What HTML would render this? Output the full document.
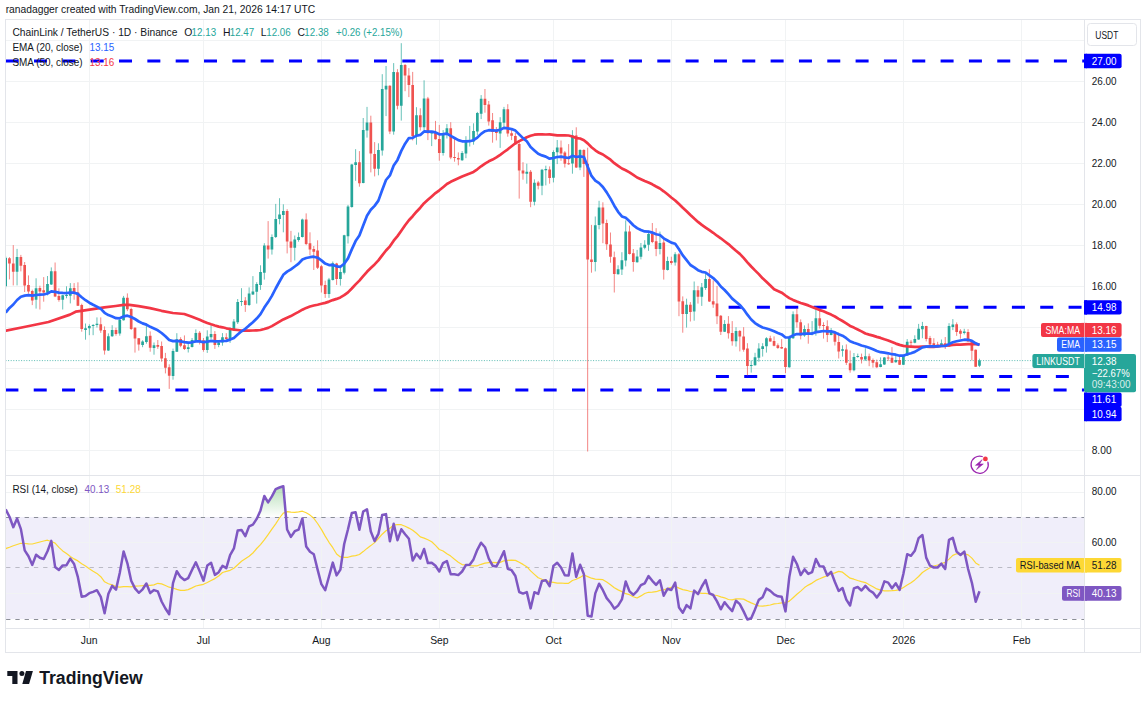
<!DOCTYPE html>
<html lang="en"><head><meta charset="utf-8"><title>LINKUSDT chart</title>
<style>html,body{margin:0;padding:0;background:#fff}svg{display:block}text{font-family:"Liberation Sans", sans-serif;}</style>
</head><body>
<svg width="1146" height="701" viewBox="0 0 1146 701">
<rect width="1146" height="701" fill="#fff"/>
<defs>
<clipPath id="cm"><rect x="6.0" y="20.0" width="1078.5" height="455.5"/></clipPath>
<clipPath id="cr"><rect x="6.0" y="476.0" width="1078.5" height="152.5"/></clipPath>
<linearGradient id="gob" gradientUnits="userSpaceOnUse" x1="0" y1="440.9" x2="0" y2="517.3"><stop offset="0" stop-color="#4caf50" stop-opacity="1"/><stop offset="1" stop-color="#4caf50" stop-opacity="0"/></linearGradient>
<linearGradient id="gos" gradientUnits="userSpaceOnUse" x1="0" y1="619.1" x2="0" y2="695.5"><stop offset="0" stop-color="#ff5252" stop-opacity="0"/><stop offset="1" stop-color="#ff5252" stop-opacity="1"/></linearGradient>
<clipPath id="cob"><rect x="6.0" y="476.0" width="1078.5" height="41.3"/></clipPath>
<clipPath id="cos"><rect x="6.0" y="619.1" width="1078.5" height="9.4"/></clipPath>
</defs>
<text x="5.7" y="12.9" font-size="10.6" fill="#131722" textLength="309.5" lengthAdjust="spacingAndGlyphs">ranadagger created with TradingView.com, Jan 21, 2026 14:17 UTC</text>
<rect x="6.0" y="516.9" width="1078.5" height="102.1" fill="#f0eefa"/>
<path d="M89.5 19.5V628.5M203.5 19.5V628.5M321.5 19.5V628.5M439.5 19.5V628.5M553.5 19.5V628.5M671.5 19.5V628.5M785.5 19.5V628.5M903.5 19.5V628.5M1021.5 19.5V628.5M5.5 450.5H1084.5M5.5 409.5H1084.5M5.5 368.5H1084.5M5.5 327.5H1084.5M5.5 286.5H1084.5M5.5 245.5H1084.5M5.5 204.5H1084.5M5.5 163.5H1084.5M5.5 122.5H1084.5M5.5 81.5H1084.5M5.5 40.5H1084.5M5.5 492.5H1084.5M5.5 542.5H1084.5M5.5 593.5H1084.5" stroke="#f1f3f4" stroke-width="1" fill="none" shape-rendering="crispEdges"/>
<path d="M6.1 517.5H1084.5M6.1 619.5H1084.5" stroke="#787b86" stroke-opacity="0.85" stroke-width="1" stroke-dasharray="4.3 4.97" fill="none"/>
<path d="M6.1 567.5H1084.5" stroke="#787b86" stroke-opacity="0.45" stroke-width="1" stroke-dasharray="4.3 4.97" fill="none"/>
<path d="M5.7 60.9H1084.5" stroke="#0000ff" stroke-width="3" stroke-dasharray="13 15.33" stroke-dashoffset="0.0" fill="none"/>
<path d="M728.6 307.3H1084.5" stroke="#0000ff" stroke-width="3" stroke-dasharray="13 15.33" stroke-dashoffset="0.0" fill="none"/>
<path d="M715.9 376.4H1069.5" stroke="#0000ff" stroke-width="3" stroke-dasharray="13 15.33" stroke-dashoffset="0.0" fill="none"/>
<path d="M5.4 389.9H1084.5" stroke="#0000ff" stroke-width="3" stroke-dasharray="13 15.33" stroke-dashoffset="0.0" fill="none"/>
<g clip-path="url(#cm)">
<path d="M5.5 360.6H1084.5" stroke="#26a69a" stroke-width="1" stroke-dasharray="1 1.6" stroke-opacity="0.75" fill="none"/>
<path d="M5.65 256.0V288.6M17.06 248.9V285.4M36.08 278.3V308.6M47.49 276.0V295.4M51.30 267.4V285.0M62.71 294.8V309.5M66.51 286.3V298.3M70.32 283.1V303.4M85.53 323.5V339.7M89.34 324.3V335.2M93.14 324.1V335.2M96.95 317.4V327.5M108.36 333.4V351.0M112.16 325.2V336.9M119.77 319.1V335.7M123.57 295.9V320.6M142.59 340.3V347.2M146.40 323.7V343.7M154.01 342.5V354.7M173.03 348.6V379.7M176.83 333.2V352.0M188.24 343.2V352.5M192.05 338.0V347.5M195.85 329.4V341.8M207.26 330.3V352.9M211.07 325.4V339.1M218.67 342.0V347.2M222.48 333.1V345.7M230.09 327.1V342.9M233.89 319.1V330.8M237.69 299.0V324.0M241.50 288.2V305.9M249.11 287.4V305.9M252.91 276.1V295.0M256.71 282.2V303.6M260.52 265.3V289.9M264.32 243.2V279.6M271.93 234.4V254.6M275.73 203.9V238.0M279.54 198.2V224.3M283.34 204.3V232.3M294.75 235.5V260.5M298.56 232.5V241.7M302.36 218.6V237.5M328.99 277.9V297.9M332.79 261.5V280.5M340.40 267.6V285.6M344.21 234.8V274.4M348.01 204.9V243.5M351.81 163.9V207.7M355.62 149.2V180.8M363.23 118.0V183.3M367.03 106.9V137.6M378.44 143.3V175.3M382.25 74.2V155.6M386.05 66.0V116.1M393.66 63.1V134.7M401.27 43.2V120.6M416.48 107.2V144.7M424.09 80.3V130.1M431.70 131.0V146.1M443.11 130.1V155.6M446.91 124.1V138.5M462.13 151.1V160.9M465.93 136.2V158.2M469.74 125.9V146.5M473.54 123.3V144.7M477.35 111.9V135.3M481.15 95.1V119.1M500.17 117.2V147.9M503.97 106.9V127.9M526.80 163.7V183.7M534.41 179.4V205.4M542.01 168.9V195.2M545.82 165.7V185.4M553.43 150.3V182.4M557.23 140.0V164.1M572.45 130.2V173.7M580.05 149.2V170.2M595.27 216.5V271.4M599.07 200.8V229.3M618.09 265.3V274.5M621.90 252.2V275.0M625.70 220.4V266.4M637.11 249.9V262.6M640.92 243.0V259.4M644.72 240.2V249.3M648.53 230.7V250.8M659.94 231.6V254.4M667.55 256.7V270.5M675.15 252.2V265.6M686.57 298.7V327.6M694.17 281.5V320.7M701.78 283.0V305.9M705.59 272.3V289.9M724.61 320.1V332.0M736.02 327.2V346.6M751.23 360.6V372.6M755.04 352.8V365.7M758.84 343.2V361.7M762.65 343.2V356.6M766.45 337.2V352.6M789.27 335.7V367.7M793.08 311.4V338.9M804.49 325.4V336.8M812.10 321.1V335.4M815.90 306.3V335.7M831.12 328.0V335.3M842.53 345.3V356.7M853.94 353.0V371.3M857.75 353.6V357.8M865.35 348.2V361.0M880.57 357.4V367.3M884.37 357.0V365.0M895.79 355.9V362.7M903.39 355.0V365.0M907.20 339.1V355.9M914.81 335.3V343.3M918.61 323.9V339.9M922.41 321.9V338.2M941.43 339.5V346.2M949.04 323.2V346.7M952.85 319.1V330.1M964.26 328.8V334.5M979.47 358.7V367.1" stroke="#26a69a" stroke-width="1" fill="none" stroke-opacity="0.7"/>
<path d="M9.45 257.1V279.4M13.26 245.1V285.4M20.87 254.9V271.4M24.67 262.0V292.0M28.47 275.4V293.7M32.28 289.7V305.1M39.89 285.7V309.5M43.69 277.1V301.7M55.10 262.5V297.1M58.91 288.3V301.7M74.12 283.1V299.7M77.93 282.3V306.0M81.73 303.7V331.7M100.75 317.4V332.9M104.55 326.4V354.6M115.97 327.7V335.7M127.38 293.4V311.1M131.18 307.7V330.0M134.99 327.2V352.6M138.79 338.0V350.6M150.20 331.4V351.7M157.81 340.0V348.9M161.61 341.5V361.7M165.42 352.9V373.4M169.22 364.3V388.9M180.63 337.2V347.2M184.44 335.4V350.0M199.65 331.1V344.5M203.46 338.0V351.7M214.87 331.1V348.9M226.28 333.2V342.0M245.30 297.1V311.9M268.13 221.1V258.6M287.15 209.2V253.4M290.95 230.9V262.2M306.17 213.4V245.1M309.97 232.3V255.2M313.77 246.0V270.0M317.58 240.3V269.0M321.38 264.9V292.5M325.19 280.7V297.9M336.60 262.8V284.9M359.42 151.1V186.7M370.83 115.7V172.4M374.64 142.1V176.4M389.85 85.2V134.1M397.46 69.2V109.4M405.07 64.0V91.2M408.87 68.1V97.1M412.68 71.9V140.4M420.29 108.3V130.5M427.89 96.9V140.1M435.50 120.9V139.6M439.31 124.9V160.7M450.72 122.2V159.2M454.52 138.6V161.7M458.33 152.4V165.3M484.95 89.0V112.7M488.76 101.0V125.6M492.56 113.0V142.7M496.37 127.1V140.4M507.78 104.2V136.7M511.58 129.4V140.1M515.39 133.0V144.6M519.19 141.5V198.6M522.99 162.2V179.7M530.60 170.0V207.2M538.21 180.9V189.4M549.62 166.4V183.7M561.03 140.5V160.8M564.84 151.1V167.5M568.64 144.1V164.9M576.25 127.3V168.0M583.86 149.2V176.9M587.66 147.7V451.5M591.47 224.9V272.7M602.88 202.3V243.2M606.68 219.6V249.9M610.49 232.5V262.7M614.29 251.6V292.5M629.51 225.6V254.5M633.31 249.0V271.7M652.33 223.0V243.2M656.13 228.2V256.2M663.74 237.1V279.6M671.35 256.7V264.7M678.96 253.0V316.2M682.76 296.4V332.7M690.37 302.1V321.5M697.98 285.9V303.6M709.39 269.3V302.0M713.19 280.4V307.8M717.00 285.9V324.1M720.80 315.0V335.0M728.41 316.1V338.6M732.21 321.1V345.7M739.82 330.0V351.4M743.63 327.2V351.7M747.43 343.2V375.4M770.25 335.7V341.7M774.06 336.4V346.3M777.86 343.4V348.9M781.67 339.1V348.9M785.47 347.4V373.2M796.88 308.2V327.7M800.69 319.4V339.4M808.29 323.4V343.7M819.71 308.9V328.6M823.51 322.3V338.6M827.31 320.3V342.1M834.92 331.0V345.5M838.73 332.5V358.5M846.33 344.4V365.0M850.14 350.5V372.7M861.55 353.6V363.5M869.16 353.6V366.2M872.96 358.5V367.6M876.77 359.6V368.1M888.18 355.1V361.0M891.98 347.1V363.1M899.59 357.0V365.0M911.00 339.9V347.9M926.22 325.8V341.4M930.02 335.9V347.1M933.83 338.2V346.7M937.63 341.8V345.9M945.24 337.0V349.0M956.65 322.4V335.9M960.45 329.2V338.7M968.06 329.2V341.8M971.87 340.7V360.4M975.67 349.5V367.0" stroke="#ef5350" stroke-width="1" fill="none" stroke-opacity="0.7"/>
<path d="M4.30 257.7h2.7v28.6h-2.7zM15.71 257.1h2.7v14.6h-2.7zM34.73 288.3h2.7v11.4h-2.7zM46.14 284.0h2.7v8.8h-2.7zM49.95 271.2h2.7v13.4h-2.7zM61.36 295.2h2.7v4.6h-2.7zM65.16 294.9h2.7v1.1h-2.7zM68.97 288.3h2.7v7.4h-2.7zM84.18 328.3h2.7v1.7h-2.7zM87.99 326.0h2.7v2.3h-2.7zM91.79 324.9h2.7v1.0h-2.7zM95.60 323.8h2.7v1.1h-2.7zM107.01 336.3h2.7v14.3h-2.7zM110.81 330.0h2.7v6.3h-2.7zM118.42 320.0h2.7v13.4h-2.7zM122.22 297.8h2.7v22.5h-2.7zM141.24 341.4h2.7v3.5h-2.7zM145.05 336.3h2.7v5.7h-2.7zM152.66 345.2h2.7v2.8h-2.7zM171.68 351.0h2.7v25.1h-2.7zM175.48 339.2h2.7v12.5h-2.7zM186.89 347.2h2.7v1.7h-2.7zM190.70 340.1h2.7v6.9h-2.7zM194.50 333.0h2.7v7.6h-2.7zM205.91 336.5h2.7v13.5h-2.7zM209.72 334.0h2.7v3.2h-2.7zM217.32 342.6h2.7v2.3h-2.7zM221.13 337.2h2.7v5.4h-2.7zM228.74 328.0h2.7v12.0h-2.7zM232.54 321.6h2.7v7.5h-2.7zM236.34 301.9h2.7v20.3h-2.7zM240.15 301.0h2.7v1.0h-2.7zM247.76 293.6h2.7v11.5h-2.7zM251.56 291.4h2.7v3.0h-2.7zM255.36 284.1h2.7v7.7h-2.7zM259.17 272.1h2.7v12.9h-2.7zM262.97 245.4h2.7v27.3h-2.7zM270.58 236.9h2.7v12.5h-2.7zM274.38 219.1h2.7v18.0h-2.7zM278.19 214.6h2.7v4.5h-2.7zM281.99 211.1h2.7v3.8h-2.7zM293.40 239.4h2.7v8.3h-2.7zM297.21 237.1h2.7v3.0h-2.7zM301.01 219.5h2.7v17.6h-2.7zM327.64 279.6h2.7v14.3h-2.7zM331.44 263.2h2.7v16.9h-2.7zM339.05 272.1h2.7v6.9h-2.7zM342.86 235.2h2.7v37.5h-2.7zM346.66 206.6h2.7v29.7h-2.7zM350.46 164.4h2.7v42.7h-2.7zM354.27 162.2h2.7v2.8h-2.7zM361.88 130.1h2.7v53.0h-2.7zM365.68 122.6h2.7v7.9h-2.7zM377.09 150.1h2.7v18.6h-2.7zM380.90 89.1h2.7v61.3h-2.7zM384.70 85.7h2.7v3.7h-2.7zM392.31 71.9h2.7v59.7h-2.7zM399.92 65.1h2.7v40.7h-2.7zM415.13 115.2h2.7v20.7h-2.7zM422.74 98.6h2.7v28.6h-2.7zM430.35 131.9h2.7v1.7h-2.7zM441.76 133.2h2.7v19.8h-2.7zM445.56 128.3h2.7v4.9h-2.7zM460.78 153.0h2.7v7.2h-2.7zM464.58 141.0h2.7v12.6h-2.7zM468.39 140.4h2.7v1.0h-2.7zM472.19 131.0h2.7v10.6h-2.7zM476.00 113.0h2.7v18.6h-2.7zM479.80 98.7h2.7v15.1h-2.7zM498.82 122.2h2.7v11.4h-2.7zM502.62 109.2h2.7v13.5h-2.7zM525.45 171.7h2.7v2.0h-2.7zM533.06 182.8h2.7v19.0h-2.7zM540.66 169.8h2.7v16.0h-2.7zM544.47 168.9h2.7v1.3h-2.7zM552.08 151.9h2.7v25.9h-2.7zM555.88 147.4h2.7v4.9h-2.7zM571.10 135.4h2.7v28.0h-2.7zM578.70 150.0h2.7v17.5h-2.7zM593.92 225.3h2.7v36.6h-2.7zM597.72 207.6h2.7v17.3h-2.7zM616.74 269.3h2.7v4.9h-2.7zM620.55 260.2h2.7v9.3h-2.7zM624.35 231.6h2.7v29.0h-2.7zM635.76 256.5h2.7v5.7h-2.7zM639.57 247.4h2.7v9.3h-2.7zM643.37 244.7h2.7v3.1h-2.7zM647.18 233.9h2.7v10.8h-2.7zM658.59 243.0h2.7v6.0h-2.7zM666.20 261.1h2.7v8.8h-2.7zM673.80 254.2h2.7v8.2h-2.7zM685.22 304.7h2.7v9.2h-2.7zM692.82 290.2h2.7v21.4h-2.7zM700.43 287.2h2.7v9.5h-2.7zM704.24 279.0h2.7v8.9h-2.7zM723.26 324.1h2.7v7.6h-2.7zM734.67 330.9h2.7v10.3h-2.7zM749.88 364.9h2.7v1.2h-2.7zM753.69 357.2h2.7v8.0h-2.7zM757.49 348.6h2.7v9.1h-2.7zM761.30 346.3h2.7v2.6h-2.7zM765.10 338.3h2.7v8.0h-2.7zM787.92 337.7h2.7v29.5h-2.7zM791.73 314.3h2.7v24.0h-2.7zM803.14 329.1h2.7v6.3h-2.7zM810.75 332.6h2.7v1.7h-2.7zM814.55 318.3h2.7v14.3h-2.7zM829.77 331.6h2.7v3.3h-2.7zM841.18 349.3h2.7v1.5h-2.7zM852.59 357.0h2.7v13.2h-2.7zM856.40 355.9h2.7v1.0h-2.7zM864.00 356.2h2.7v3.4h-2.7zM879.22 364.2h2.7v2.8h-2.7zM883.02 357.4h2.7v7.0h-2.7zM894.44 359.9h2.7v2.3h-2.7zM902.04 355.5h2.7v9.2h-2.7zM905.85 341.8h2.7v13.7h-2.7zM913.46 339.1h2.7v3.6h-2.7zM917.26 328.8h2.7v10.7h-2.7zM921.06 326.1h2.7v3.1h-2.7zM940.08 343.3h2.7v2.3h-2.7zM947.69 326.1h2.7v20.3h-2.7zM951.50 324.4h2.7v2.5h-2.7zM962.91 331.5h2.7v1.5h-2.7zM978.12 360.6h2.7v5.1h-2.7z" fill="#26a69a"/>
<path d="M8.10 258.3h2.7v5.1h-2.7zM11.91 263.4h2.7v8.3h-2.7zM19.52 257.1h2.7v8.6h-2.7zM23.32 265.1h2.7v20.3h-2.7zM27.12 285.1h2.7v6.3h-2.7zM30.93 290.9h2.7v9.7h-2.7zM38.54 288.0h2.7v3.4h-2.7zM42.34 290.3h2.7v2.3h-2.7zM53.75 271.2h2.7v25.4h-2.7zM57.56 296.0h2.7v4.0h-2.7zM72.77 288.0h2.7v5.1h-2.7zM76.58 292.6h2.7v13.1h-2.7zM80.38 304.9h2.7v24.0h-2.7zM99.40 324.3h2.7v6.3h-2.7zM103.20 330.0h2.7v20.6h-2.7zM114.62 330.0h2.7v4.0h-2.7zM126.03 297.8h2.7v11.4h-2.7zM129.83 308.9h2.7v20.0h-2.7zM133.64 327.7h2.7v10.9h-2.7zM137.44 338.2h2.7v6.4h-2.7zM148.85 335.7h2.7v12.0h-2.7zM156.46 345.0h2.7v1.7h-2.7zM160.26 346.0h2.7v12.6h-2.7zM164.07 358.2h2.7v9.5h-2.7zM167.87 367.2h2.7v8.5h-2.7zM179.28 339.1h2.7v6.6h-2.7zM183.09 345.3h2.7v3.7h-2.7zM198.30 332.7h2.7v8.2h-2.7zM202.11 340.3h2.7v9.7h-2.7zM213.52 334.0h2.7v10.9h-2.7zM224.93 337.2h2.7v1.9h-2.7zM243.95 300.5h2.7v4.6h-2.7zM266.78 245.4h2.7v4.0h-2.7zM285.80 211.1h2.7v30.3h-2.7zM289.60 241.4h2.7v6.3h-2.7zM304.82 219.5h2.7v24.5h-2.7zM308.62 243.2h2.7v6.2h-2.7zM312.42 248.9h2.7v2.8h-2.7zM316.23 250.6h2.7v17.1h-2.7zM320.03 266.2h2.7v19.4h-2.7zM323.84 284.9h2.7v9.0h-2.7zM335.25 263.4h2.7v15.6h-2.7zM358.07 162.2h2.7v21.1h-2.7zM369.48 122.6h2.7v31.0h-2.7zM373.29 154.1h2.7v14.6h-2.7zM388.50 85.7h2.7v45.9h-2.7zM396.11 72.3h2.7v33.5h-2.7zM403.72 64.9h2.7v10.5h-2.7zM407.52 75.4h2.7v9.5h-2.7zM411.33 84.9h2.7v51.0h-2.7zM418.94 115.2h2.7v12.0h-2.7zM426.54 98.6h2.7v34.6h-2.7zM434.15 131.9h2.7v7.4h-2.7zM437.96 138.9h2.7v14.1h-2.7zM449.37 128.3h2.7v29.3h-2.7zM453.17 157.1h2.7v1.0h-2.7zM456.98 157.9h2.7v1.7h-2.7zM483.60 98.7h2.7v6.3h-2.7zM487.41 104.4h2.7v17.0h-2.7zM491.21 120.2h2.7v11.7h-2.7zM495.02 131.0h2.7v2.0h-2.7zM506.43 109.2h2.7v24.4h-2.7zM510.23 133.3h2.7v2.5h-2.7zM514.04 135.9h2.7v8.4h-2.7zM517.84 143.9h2.7v26.7h-2.7zM521.64 170.6h2.7v2.8h-2.7zM529.25 171.7h2.7v30.1h-2.7zM536.86 182.6h2.7v3.2h-2.7zM548.27 169.4h2.7v8.6h-2.7zM559.68 147.4h2.7v6.1h-2.7zM563.49 152.6h2.7v11.1h-2.7zM567.29 163.2h2.7v1.0h-2.7zM574.90 135.5h2.7v32.0h-2.7zM582.51 150.0h2.7v14.1h-2.7zM586.31 163.7h2.7v95.9h-2.7zM590.12 259.6h2.7v2.3h-2.7zM601.53 207.6h2.7v16.0h-2.7zM605.33 223.0h2.7v21.2h-2.7zM609.14 244.4h2.7v12.3h-2.7zM612.94 257.3h2.7v16.6h-2.7zM628.16 231.6h2.7v22.3h-2.7zM631.96 253.3h2.7v8.6h-2.7zM650.98 233.9h2.7v8.0h-2.7zM654.78 241.3h2.7v7.7h-2.7zM662.39 242.4h2.7v27.4h-2.7zM670.00 261.0h2.7v2.1h-2.7zM677.61 254.2h2.7v47.4h-2.7zM681.41 301.3h2.7v12.6h-2.7zM689.02 304.7h2.7v7.2h-2.7zM696.63 290.2h2.7v6.5h-2.7zM708.04 279.0h2.7v22.6h-2.7zM711.84 301.3h2.7v3.1h-2.7zM715.65 303.6h2.7v12.6h-2.7zM719.45 315.8h2.7v15.9h-2.7zM727.06 323.8h2.7v9.4h-2.7zM730.86 333.1h2.7v8.1h-2.7zM738.47 330.9h2.7v5.7h-2.7zM742.28 336.4h2.7v13.3h-2.7zM746.08 348.6h2.7v17.5h-2.7zM768.90 338.3h2.7v3.1h-2.7zM772.71 340.9h2.7v4.8h-2.7zM776.51 345.2h2.7v2.8h-2.7zM780.32 346.9h2.7v1.7h-2.7zM784.12 348.2h2.7v18.7h-2.7zM795.53 314.3h2.7v8.0h-2.7zM799.34 322.3h2.7v13.1h-2.7zM806.94 329.1h2.7v5.2h-2.7zM818.36 318.3h2.7v7.4h-2.7zM822.16 324.9h2.7v1.0h-2.7zM825.96 326.3h2.7v8.6h-2.7zM833.57 332.0h2.7v9.8h-2.7zM837.38 341.9h2.7v9.7h-2.7zM844.98 349.4h2.7v13.3h-2.7zM848.79 363.3h2.7v6.9h-2.7zM860.20 357.0h2.7v2.6h-2.7zM867.81 356.2h2.7v4.2h-2.7zM871.61 359.9h2.7v2.8h-2.7zM875.42 362.2h2.7v5.1h-2.7zM886.83 357.4h2.7v1.0h-2.7zM890.63 357.8h2.7v4.9h-2.7zM898.24 359.9h2.7v4.8h-2.7zM909.65 341.8h2.7v1.0h-2.7zM924.87 326.1h2.7v13.0h-2.7zM928.67 337.9h2.7v6.5h-2.7zM932.48 343.3h2.7v2.3h-2.7zM936.28 344.4h2.7v1.2h-2.7zM943.89 343.3h2.7v2.9h-2.7zM955.30 324.2h2.7v7.7h-2.7zM959.10 330.7h2.7v3.1h-2.7zM966.71 331.9h2.7v9.5h-2.7zM970.52 341.4h2.7v9.3h-2.7zM974.32 349.8h2.7v16.9h-2.7z" fill="#ef5350"/>
<path d="M5.0 330.8L6.0 330.6L24.2 327.0L48.5 322.0L70.0 314.6L75.7 311.7L81.4 310.9L92.9 309.2L104.3 307.4L115.7 306.0L123.7 304.9L129.4 304.9L138.6 306.2L150.0 308.1L161.5 310.8L172.9 313.0L184.3 314.0L192.0 316.8L195.8 318.3L199.7 319.8L203.5 321.4L207.3 323.0L211.1 324.3L214.9 325.5L218.7 326.6L222.5 327.3L226.3 328.3L230.1 329.0L233.9 329.6L237.7 330.0L241.5 330.6L245.3 330.7L249.1 330.6L252.9 330.5L256.7 330.3L260.5 330.0L264.3 329.0L268.1 327.9L271.9 326.1L275.7 323.9L279.5 321.7L283.3 319.4L287.1 317.7L290.9 316.1L294.8 313.9L298.6 311.9L302.4 309.7L306.2 307.9L310.0 306.5L313.8 305.5L317.6 304.7L321.4 303.8L325.2 302.9L329.0 301.6L332.8 300.1L336.6 298.9L340.4 297.4L344.2 295.2L348.0 292.4L351.8 288.5L355.6 284.4L359.4 280.6L363.2 276.2L367.0 271.8L370.8 268.0L374.6 264.4L378.4 260.4L382.2 255.4L386.0 250.5L389.9 246.3L393.7 240.7L397.5 236.1L401.3 230.7L405.1 225.3L408.9 220.2L412.7 216.2L416.5 211.7L420.3 207.7L424.1 203.2L427.9 199.8L431.7 196.4L435.5 193.1L439.3 190.3L443.1 187.2L446.9 184.0L450.7 181.8L454.5 180.0L458.3 178.2L462.1 176.5L465.9 175.0L469.7 173.5L473.5 171.9L477.3 169.3L481.1 166.3L485.0 163.6L488.8 161.3L492.6 159.6L496.4 157.4L500.2 154.8L504.0 152.0L507.8 149.3L511.6 146.3L515.4 143.3L519.2 141.1L523.0 139.3L526.8 137.2L530.6 135.8L534.4 134.7L538.2 134.3L542.0 134.4L545.8 134.5L549.6 134.4L553.4 134.9L557.2 135.4L561.0 135.4L564.8 135.3L568.6 135.5L572.4 136.5L576.2 138.1L580.1 138.5L583.9 140.3L587.7 143.4L591.5 147.3L595.3 150.3L599.1 152.8L602.9 154.5L606.7 157.1L610.5 159.7L614.3 163.2L618.1 165.9L621.9 168.5L625.7 170.3L629.5 172.4L633.3 174.9L637.1 177.5L640.9 179.3L644.7 181.0L648.5 182.5L652.3 184.3L656.1 186.5L659.9 188.5L663.7 191.3L667.5 194.3L671.3 197.5L675.2 200.5L679.0 204.1L682.8 207.8L686.6 211.2L690.4 215.0L694.2 218.6L698.0 221.9L701.8 224.9L705.6 227.6L709.4 230.2L713.2 232.8L717.0 235.7L720.8 238.3L724.6 241.2L728.4 244.1L732.2 247.5L736.0 250.8L739.8 253.9L743.6 257.9L747.4 262.3L751.2 266.5L755.0 270.4L758.8 274.1L762.6 278.3L766.4 281.7L770.3 285.5L774.1 289.2L777.9 290.9L781.7 292.7L785.5 295.5L789.3 298.1L793.1 299.9L796.9 301.5L800.7 303.0L804.5 304.1L808.3 305.4L812.1 306.9L815.9 308.6L819.7 310.1L823.5 311.3L827.3 312.9L831.1 314.6L834.9 316.5L838.7 318.9L842.5 321.0L846.3 323.3L850.1 325.9L853.9 327.6L857.7 329.5L861.5 331.4L865.4 333.5L869.2 334.6L873.0 335.6L876.8 336.9L880.6 337.9L884.4 339.3L888.2 340.5L892.0 342.0L895.8 343.6L899.6 344.9L903.4 345.9L907.2 346.4L911.0 346.6L914.8 346.9L918.6 346.8L922.4 346.5L926.2 346.7L930.0 346.9L933.8 346.8L937.6 346.4L941.4 345.9L945.2 345.7L949.0 345.3L952.8 344.8L956.6 344.7L960.5 344.6L964.3 344.3L968.1 344.1L971.9 344.2L975.7 344.2L979.5 344.6" stroke="#f23645" stroke-width="2.7" fill="none" stroke-linejoin="round"/>
<path d="M5.7 312.6L9.5 307.9L13.3 304.5L17.1 300.0L20.9 296.7L24.7 295.6L28.5 295.2L32.3 295.7L36.1 295.0L39.9 294.7L43.7 294.5L47.5 293.5L51.3 291.4L55.1 291.9L58.9 292.6L62.7 292.9L66.5 293.1L70.3 292.6L74.1 292.7L77.9 293.9L81.7 297.2L85.5 300.2L89.3 302.7L93.1 304.8L96.9 306.6L100.8 308.9L104.6 312.8L108.4 315.1L112.2 316.5L116.0 318.2L119.8 318.3L123.6 316.4L127.4 315.7L131.2 317.0L135.0 319.0L138.8 321.5L142.6 323.4L146.4 324.6L150.2 326.8L154.0 328.5L157.8 330.3L161.6 333.0L165.4 336.3L169.2 340.0L173.0 341.1L176.8 340.9L180.6 341.4L184.4 342.1L188.2 342.6L192.0 342.3L195.8 341.4L199.7 341.4L203.5 342.2L207.3 341.7L211.1 340.9L214.9 341.3L218.7 341.4L222.5 341.0L226.3 340.9L230.1 339.6L233.9 337.9L237.7 334.5L241.5 331.3L245.3 328.8L249.1 325.4L252.9 322.2L256.7 318.6L260.5 314.1L264.3 307.6L268.1 302.1L271.9 295.9L275.7 288.5L279.5 281.5L283.3 274.8L287.1 271.6L290.9 269.3L294.8 266.5L298.6 263.7L302.4 259.5L306.2 258.0L310.0 257.2L313.8 256.7L317.6 257.7L321.4 260.4L325.2 263.6L329.0 265.1L332.8 264.9L336.6 266.3L340.4 266.8L344.2 263.8L348.0 258.4L351.8 249.4L355.6 241.1L359.4 235.6L363.2 225.5L367.0 215.7L370.8 209.8L374.6 205.9L378.4 200.6L382.2 190.0L386.0 180.0L389.9 175.4L393.7 165.6L397.5 159.9L401.3 150.9L405.1 143.7L408.9 138.1L412.7 137.9L416.5 135.7L420.3 134.9L424.1 131.4L427.9 131.6L431.7 131.6L435.5 132.4L439.3 134.3L443.1 134.2L446.9 133.7L450.7 135.9L454.5 138.0L458.3 140.1L462.1 141.3L465.9 141.3L469.7 141.2L473.5 140.2L477.3 137.6L481.1 133.9L485.0 131.2L488.8 130.2L492.6 130.4L496.4 130.6L500.2 129.8L504.0 127.9L507.8 128.4L511.6 129.1L515.4 130.6L519.2 134.4L523.0 138.1L526.8 141.3L530.6 147.1L534.4 150.5L538.2 153.8L542.0 155.4L545.8 156.6L549.6 158.7L553.4 158.0L557.2 157.0L561.0 156.7L564.8 157.4L568.6 158.0L572.4 155.8L576.2 157.0L580.1 156.3L583.9 157.0L587.7 166.8L591.5 175.9L595.3 180.6L599.1 183.1L602.9 187.0L606.7 192.4L610.5 198.6L614.3 205.7L618.1 211.8L621.9 216.4L625.7 217.8L629.5 221.3L633.3 225.2L637.1 228.1L640.9 230.0L644.7 231.4L648.5 231.6L652.3 232.6L656.1 234.2L659.9 235.0L663.7 238.3L667.5 240.5L671.3 242.6L675.2 243.7L679.0 249.2L682.8 255.4L686.6 260.1L690.4 265.0L694.2 267.4L698.0 270.2L701.8 271.8L705.6 272.5L709.4 275.3L713.2 278.1L717.0 281.7L720.8 286.5L724.6 290.0L728.4 294.2L732.2 298.6L736.0 301.7L739.8 305.0L743.6 309.3L747.4 314.7L751.2 319.5L755.0 323.1L758.8 325.5L762.6 327.5L766.4 328.5L770.3 329.7L774.1 331.3L777.9 332.9L781.7 334.4L785.5 337.5L789.3 337.5L793.1 335.3L796.9 334.0L800.7 334.2L804.5 333.7L808.3 333.7L812.1 333.6L815.9 332.2L819.7 331.6L823.5 331.0L827.3 331.4L831.1 331.4L834.9 332.4L838.7 334.2L842.5 335.7L846.3 338.2L850.1 341.3L853.9 342.8L857.7 344.0L861.5 345.5L865.4 346.5L869.2 347.8L873.0 349.3L876.8 351.0L880.6 352.2L884.4 352.7L888.2 353.3L892.0 354.2L895.8 354.7L899.6 355.7L903.4 355.7L907.2 354.3L911.0 353.2L914.8 351.9L918.6 349.7L922.4 347.4L926.2 346.6L930.0 346.4L933.8 346.4L937.6 346.3L941.4 346.0L945.2 346.0L949.0 344.1L952.8 342.2L956.6 341.3L960.5 340.5L964.3 339.7L968.1 339.8L971.9 340.9L975.7 343.3L979.5 345.0" stroke="#2962ff" stroke-width="2.7" fill="none" stroke-linejoin="round"/>
</g>
<g clip-path="url(#cr)">
<path d="M5.7 509.4L9.5 516.8L13.3 527.2L17.1 518.6L20.9 529.1L24.7 550.4L28.5 556.2L32.3 564.9L36.1 554.7L39.9 557.8L43.7 559.0L47.5 551.3L51.3 540.9L55.1 566.9L58.9 569.9L62.7 565.4L66.5 565.2L70.3 558.6L74.1 564.0L77.9 577.2L81.7 596.8L85.5 596.1L89.3 593.2L93.1 591.8L96.9 590.2L100.8 596.9L104.6 613.3L108.4 593.7L112.2 585.9L116.0 589.6L119.8 572.8L123.6 551.4L127.4 563.3L131.2 580.8L135.0 588.4L138.8 592.8L142.6 589.3L146.4 583.5L150.2 593.1L154.0 590.1L157.8 591.4L161.6 601.5L165.4 608.5L169.2 614.2L173.0 583.2L176.8 571.2L180.6 577.1L184.4 580.1L188.2 578.1L192.0 570.0L195.8 562.3L199.7 571.2L203.5 580.7L207.3 565.5L211.1 562.8L214.9 574.9L218.7 572.2L222.5 565.8L226.3 568.1L230.1 555.2L233.9 548.4L237.7 530.6L241.5 529.9L245.3 536.2L249.1 526.4L252.9 524.6L256.7 518.9L260.5 510.4L264.3 496.0L268.1 502.4L271.9 496.4L275.7 489.1L279.5 487.5L283.3 486.2L287.1 529.5L290.9 536.9L294.8 531.2L298.6 529.6L302.4 518.5L306.2 546.5L310.0 551.8L313.8 554.2L317.6 569.6L321.4 584.2L325.2 590.2L329.0 576.5L332.8 562.6L336.6 575.4L340.4 569.6L344.2 544.0L348.0 529.3L351.8 513.0L355.6 512.2L359.4 529.8L363.2 511.5L367.0 509.3L370.8 531.5L374.6 541.1L378.4 533.9L382.2 515.0L386.0 514.1L389.9 541.2L393.7 523.8L397.5 540.2L401.3 529.3L405.1 534.2L408.9 538.7L412.7 560.6L416.5 553.7L420.3 558.6L424.1 549.0L427.9 563.1L431.7 562.7L435.5 565.7L439.3 571.5L443.1 563.1L446.9 561.0L450.7 574.2L454.5 574.3L458.3 575.1L462.1 571.5L465.9 565.1L469.7 564.7L473.5 559.4L477.3 549.8L481.1 542.7L485.0 547.2L488.8 558.7L492.6 565.7L496.4 566.4L500.2 559.3L504.0 551.2L507.8 568.8L511.6 570.2L515.4 576.0L519.2 592.0L523.0 593.6L526.8 592.1L530.6 608.4L534.4 592.2L538.2 593.9L542.0 580.9L545.8 580.2L549.6 586.2L553.4 565.9L557.2 562.7L561.0 567.5L564.8 575.2L568.6 575.5L572.4 553.4L576.2 576.9L580.1 564.8L583.9 574.2L587.7 615.7L591.5 616.4L595.3 593.4L599.1 583.7L602.9 590.2L606.7 598.1L610.5 602.7L614.3 608.7L618.1 605.6L621.9 599.4L625.7 581.5L629.5 591.4L633.3 594.8L637.1 591.2L640.9 585.2L644.7 583.4L648.5 576.1L652.3 580.8L656.1 584.9L659.9 580.3L663.7 595.7L667.5 588.8L671.3 590.0L675.2 582.6L679.0 607.6L682.8 612.8L686.6 605.1L690.4 608.4L694.2 590.6L698.0 594.1L701.8 586.5L705.6 580.1L709.4 593.4L713.2 595.0L717.0 601.4L720.8 609.3L724.6 602.2L728.4 607.0L732.2 611.1L736.0 600.8L739.8 604.1L743.6 611.4L747.4 619.5L751.2 618.2L755.0 609.4L758.8 599.9L762.6 597.3L766.4 588.5L770.3 590.9L774.1 594.4L777.9 596.3L781.7 596.8L785.5 611.4L789.3 577.0L793.1 556.8L796.9 564.0L800.7 575.0L804.5 569.4L808.3 573.9L812.1 572.2L815.9 559.0L819.7 566.3L823.5 566.5L827.3 575.5L831.1 571.9L834.9 582.0L838.7 590.9L842.5 588.0L846.3 599.6L850.1 605.5L853.9 588.4L857.7 587.0L861.5 590.5L865.4 585.9L869.2 590.2L873.0 592.6L876.8 597.5L880.6 592.3L884.4 581.4L888.2 582.6L892.0 588.3L895.8 583.3L899.6 589.9L903.4 573.8L907.2 554.2L911.0 555.8L914.8 550.8L918.6 538.1L922.4 535.0L926.2 557.6L930.0 565.7L933.8 567.5L937.6 567.5L941.4 563.7L945.2 568.9L949.0 539.8L952.8 537.8L956.6 551.6L960.5 555.0L964.3 551.6L968.1 569.0L971.9 582.8L975.7 601.7L979.5 591.3L979.5 517.3L5.7 517.3Z" fill="url(#gob)" clip-path="url(#cob)"/>
<path d="M5.7 509.4L9.5 516.8L13.3 527.2L17.1 518.6L20.9 529.1L24.7 550.4L28.5 556.2L32.3 564.9L36.1 554.7L39.9 557.8L43.7 559.0L47.5 551.3L51.3 540.9L55.1 566.9L58.9 569.9L62.7 565.4L66.5 565.2L70.3 558.6L74.1 564.0L77.9 577.2L81.7 596.8L85.5 596.1L89.3 593.2L93.1 591.8L96.9 590.2L100.8 596.9L104.6 613.3L108.4 593.7L112.2 585.9L116.0 589.6L119.8 572.8L123.6 551.4L127.4 563.3L131.2 580.8L135.0 588.4L138.8 592.8L142.6 589.3L146.4 583.5L150.2 593.1L154.0 590.1L157.8 591.4L161.6 601.5L165.4 608.5L169.2 614.2L173.0 583.2L176.8 571.2L180.6 577.1L184.4 580.1L188.2 578.1L192.0 570.0L195.8 562.3L199.7 571.2L203.5 580.7L207.3 565.5L211.1 562.8L214.9 574.9L218.7 572.2L222.5 565.8L226.3 568.1L230.1 555.2L233.9 548.4L237.7 530.6L241.5 529.9L245.3 536.2L249.1 526.4L252.9 524.6L256.7 518.9L260.5 510.4L264.3 496.0L268.1 502.4L271.9 496.4L275.7 489.1L279.5 487.5L283.3 486.2L287.1 529.5L290.9 536.9L294.8 531.2L298.6 529.6L302.4 518.5L306.2 546.5L310.0 551.8L313.8 554.2L317.6 569.6L321.4 584.2L325.2 590.2L329.0 576.5L332.8 562.6L336.6 575.4L340.4 569.6L344.2 544.0L348.0 529.3L351.8 513.0L355.6 512.2L359.4 529.8L363.2 511.5L367.0 509.3L370.8 531.5L374.6 541.1L378.4 533.9L382.2 515.0L386.0 514.1L389.9 541.2L393.7 523.8L397.5 540.2L401.3 529.3L405.1 534.2L408.9 538.7L412.7 560.6L416.5 553.7L420.3 558.6L424.1 549.0L427.9 563.1L431.7 562.7L435.5 565.7L439.3 571.5L443.1 563.1L446.9 561.0L450.7 574.2L454.5 574.3L458.3 575.1L462.1 571.5L465.9 565.1L469.7 564.7L473.5 559.4L477.3 549.8L481.1 542.7L485.0 547.2L488.8 558.7L492.6 565.7L496.4 566.4L500.2 559.3L504.0 551.2L507.8 568.8L511.6 570.2L515.4 576.0L519.2 592.0L523.0 593.6L526.8 592.1L530.6 608.4L534.4 592.2L538.2 593.9L542.0 580.9L545.8 580.2L549.6 586.2L553.4 565.9L557.2 562.7L561.0 567.5L564.8 575.2L568.6 575.5L572.4 553.4L576.2 576.9L580.1 564.8L583.9 574.2L587.7 615.7L591.5 616.4L595.3 593.4L599.1 583.7L602.9 590.2L606.7 598.1L610.5 602.7L614.3 608.7L618.1 605.6L621.9 599.4L625.7 581.5L629.5 591.4L633.3 594.8L637.1 591.2L640.9 585.2L644.7 583.4L648.5 576.1L652.3 580.8L656.1 584.9L659.9 580.3L663.7 595.7L667.5 588.8L671.3 590.0L675.2 582.6L679.0 607.6L682.8 612.8L686.6 605.1L690.4 608.4L694.2 590.6L698.0 594.1L701.8 586.5L705.6 580.1L709.4 593.4L713.2 595.0L717.0 601.4L720.8 609.3L724.6 602.2L728.4 607.0L732.2 611.1L736.0 600.8L739.8 604.1L743.6 611.4L747.4 619.5L751.2 618.2L755.0 609.4L758.8 599.9L762.6 597.3L766.4 588.5L770.3 590.9L774.1 594.4L777.9 596.3L781.7 596.8L785.5 611.4L789.3 577.0L793.1 556.8L796.9 564.0L800.7 575.0L804.5 569.4L808.3 573.9L812.1 572.2L815.9 559.0L819.7 566.3L823.5 566.5L827.3 575.5L831.1 571.9L834.9 582.0L838.7 590.9L842.5 588.0L846.3 599.6L850.1 605.5L853.9 588.4L857.7 587.0L861.5 590.5L865.4 585.9L869.2 590.2L873.0 592.6L876.8 597.5L880.6 592.3L884.4 581.4L888.2 582.6L892.0 588.3L895.8 583.3L899.6 589.9L903.4 573.8L907.2 554.2L911.0 555.8L914.8 550.8L918.6 538.1L922.4 535.0L926.2 557.6L930.0 565.7L933.8 567.5L937.6 567.5L941.4 563.7L945.2 568.9L949.0 539.8L952.8 537.8L956.6 551.6L960.5 555.0L964.3 551.6L968.1 569.0L971.9 582.8L975.7 601.7L979.5 591.3L979.5 619.1L5.7 619.1Z" fill="url(#gos)" clip-path="url(#cos)"/>
<path d="M5.7 548.6L9.5 547.3L13.3 545.8L17.1 544.5L20.9 543.3L24.7 543.5L28.5 543.8L32.3 544.0L36.1 543.0L39.9 542.0L43.7 541.0L47.5 540.2L51.3 541.5L55.1 543.1L58.9 547.4L62.7 550.9L66.5 553.6L70.3 556.5L74.1 558.9L77.9 560.9L81.7 563.8L85.5 566.0L89.3 568.7L93.1 571.2L96.9 573.4L100.8 576.7L104.6 581.8L108.4 583.7L112.2 584.9L116.0 586.6L119.8 587.2L123.6 586.6L127.4 586.6L131.2 586.8L135.0 586.2L138.8 586.0L142.6 585.7L146.4 585.1L150.2 585.3L154.0 584.9L157.8 583.3L161.6 583.9L165.4 585.5L169.2 587.2L173.0 588.0L176.8 589.4L180.6 590.4L184.4 590.3L188.2 589.6L192.0 587.9L195.8 586.0L199.7 585.1L203.5 584.3L207.3 582.5L211.1 580.5L214.9 578.6L218.7 576.0L222.5 572.5L226.3 571.4L230.1 570.3L233.9 568.2L237.7 564.7L241.5 561.3L245.3 558.8L249.1 556.3L252.9 553.0L256.7 548.5L260.5 544.6L264.3 539.8L268.1 534.6L271.9 529.2L275.7 523.8L279.5 518.0L283.3 513.1L287.1 511.7L290.9 512.2L294.8 512.3L298.6 511.8L302.4 511.2L306.2 512.8L310.0 515.1L313.8 518.3L317.6 523.5L321.4 529.4L325.2 536.1L329.0 542.3L332.8 547.7L336.6 554.0L340.4 556.9L344.2 557.4L348.0 557.3L351.8 556.1L355.6 555.6L359.4 554.5L363.2 551.6L367.0 548.4L370.8 545.6L374.6 542.6L378.4 538.5L382.2 534.2L386.0 530.7L389.9 528.2L393.7 525.0L397.5 524.7L401.3 524.7L405.1 526.2L408.9 528.1L412.7 530.3L416.5 533.3L420.3 536.9L424.1 538.1L427.9 539.7L431.7 541.7L435.5 545.4L439.3 549.5L443.1 551.0L446.9 553.7L450.7 556.1L454.5 559.3L458.3 562.2L462.1 564.6L465.9 564.9L469.7 565.7L473.5 565.8L477.3 565.8L481.1 564.3L485.0 563.2L488.8 562.7L492.6 562.3L496.4 562.6L500.2 562.4L504.0 560.8L507.8 560.4L511.6 560.1L515.4 560.4L519.2 562.3L523.0 564.4L526.8 566.7L530.6 570.9L534.4 574.4L538.2 577.8L542.0 579.3L545.8 580.4L549.6 581.8L553.4 582.3L557.2 583.1L561.0 583.0L564.8 583.3L568.6 583.3L572.4 580.5L576.2 579.3L580.1 577.4L583.9 575.0L587.7 576.6L591.5 578.2L595.3 579.1L599.1 579.4L602.9 579.7L606.7 582.0L610.5 584.8L614.3 587.8L618.1 589.9L621.9 591.6L625.7 593.7L629.5 594.7L633.3 596.8L637.1 598.0L640.9 595.9L644.7 593.5L648.5 592.3L652.3 592.1L656.1 591.7L659.9 590.4L663.7 589.9L667.5 588.5L671.3 587.4L675.2 586.2L679.0 588.1L682.8 589.6L686.6 590.3L690.4 591.5L694.2 591.9L698.0 592.7L701.8 593.4L705.6 593.4L709.4 594.0L713.2 595.0L717.0 595.5L720.8 596.9L724.6 597.8L728.4 599.5L732.2 599.8L736.0 598.9L739.8 598.9L743.6 599.1L747.4 601.1L751.2 602.9L755.0 604.5L758.8 605.9L762.6 606.2L766.4 605.7L770.3 605.0L774.1 603.9L777.9 603.5L781.7 602.8L785.5 602.8L789.3 601.1L793.1 597.7L796.9 594.3L800.7 591.1L804.5 587.6L808.3 585.1L812.1 583.1L815.9 580.4L819.7 578.8L823.5 577.1L827.3 575.7L831.1 574.0L834.9 572.9L838.7 571.4L842.5 572.2L846.3 575.3L850.1 578.2L853.9 579.2L857.7 580.5L861.5 581.6L865.4 582.6L869.2 584.8L873.0 586.7L876.8 588.9L880.6 590.1L884.4 590.8L888.2 590.9L892.0 590.7L895.8 590.4L899.6 589.7L903.4 587.4L907.2 585.0L911.0 582.7L914.8 579.9L918.6 576.5L922.4 572.5L926.2 570.0L930.0 567.8L933.8 566.0L937.6 565.0L941.4 563.6L945.2 562.3L949.0 559.1L952.8 555.4L956.6 553.8L960.5 553.9L964.3 553.6L968.1 554.9L971.9 558.1L975.7 562.9L979.5 565.3" stroke="#fdd835" stroke-width="1.2" fill="none" stroke-linejoin="round"/>
<path d="M5.7 509.4L9.5 516.8L13.3 527.2L17.1 518.6L20.9 529.1L24.7 550.4L28.5 556.2L32.3 564.9L36.1 554.7L39.9 557.8L43.7 559.0L47.5 551.3L51.3 540.9L55.1 566.9L58.9 569.9L62.7 565.4L66.5 565.2L70.3 558.6L74.1 564.0L77.9 577.2L81.7 596.8L85.5 596.1L89.3 593.2L93.1 591.8L96.9 590.2L100.8 596.9L104.6 613.3L108.4 593.7L112.2 585.9L116.0 589.6L119.8 572.8L123.6 551.4L127.4 563.3L131.2 580.8L135.0 588.4L138.8 592.8L142.6 589.3L146.4 583.5L150.2 593.1L154.0 590.1L157.8 591.4L161.6 601.5L165.4 608.5L169.2 614.2L173.0 583.2L176.8 571.2L180.6 577.1L184.4 580.1L188.2 578.1L192.0 570.0L195.8 562.3L199.7 571.2L203.5 580.7L207.3 565.5L211.1 562.8L214.9 574.9L218.7 572.2L222.5 565.8L226.3 568.1L230.1 555.2L233.9 548.4L237.7 530.6L241.5 529.9L245.3 536.2L249.1 526.4L252.9 524.6L256.7 518.9L260.5 510.4L264.3 496.0L268.1 502.4L271.9 496.4L275.7 489.1L279.5 487.5L283.3 486.2L287.1 529.5L290.9 536.9L294.8 531.2L298.6 529.6L302.4 518.5L306.2 546.5L310.0 551.8L313.8 554.2L317.6 569.6L321.4 584.2L325.2 590.2L329.0 576.5L332.8 562.6L336.6 575.4L340.4 569.6L344.2 544.0L348.0 529.3L351.8 513.0L355.6 512.2L359.4 529.8L363.2 511.5L367.0 509.3L370.8 531.5L374.6 541.1L378.4 533.9L382.2 515.0L386.0 514.1L389.9 541.2L393.7 523.8L397.5 540.2L401.3 529.3L405.1 534.2L408.9 538.7L412.7 560.6L416.5 553.7L420.3 558.6L424.1 549.0L427.9 563.1L431.7 562.7L435.5 565.7L439.3 571.5L443.1 563.1L446.9 561.0L450.7 574.2L454.5 574.3L458.3 575.1L462.1 571.5L465.9 565.1L469.7 564.7L473.5 559.4L477.3 549.8L481.1 542.7L485.0 547.2L488.8 558.7L492.6 565.7L496.4 566.4L500.2 559.3L504.0 551.2L507.8 568.8L511.6 570.2L515.4 576.0L519.2 592.0L523.0 593.6L526.8 592.1L530.6 608.4L534.4 592.2L538.2 593.9L542.0 580.9L545.8 580.2L549.6 586.2L553.4 565.9L557.2 562.7L561.0 567.5L564.8 575.2L568.6 575.5L572.4 553.4L576.2 576.9L580.1 564.8L583.9 574.2L587.7 615.7L591.5 616.4L595.3 593.4L599.1 583.7L602.9 590.2L606.7 598.1L610.5 602.7L614.3 608.7L618.1 605.6L621.9 599.4L625.7 581.5L629.5 591.4L633.3 594.8L637.1 591.2L640.9 585.2L644.7 583.4L648.5 576.1L652.3 580.8L656.1 584.9L659.9 580.3L663.7 595.7L667.5 588.8L671.3 590.0L675.2 582.6L679.0 607.6L682.8 612.8L686.6 605.1L690.4 608.4L694.2 590.6L698.0 594.1L701.8 586.5L705.6 580.1L709.4 593.4L713.2 595.0L717.0 601.4L720.8 609.3L724.6 602.2L728.4 607.0L732.2 611.1L736.0 600.8L739.8 604.1L743.6 611.4L747.4 619.5L751.2 618.2L755.0 609.4L758.8 599.9L762.6 597.3L766.4 588.5L770.3 590.9L774.1 594.4L777.9 596.3L781.7 596.8L785.5 611.4L789.3 577.0L793.1 556.8L796.9 564.0L800.7 575.0L804.5 569.4L808.3 573.9L812.1 572.2L815.9 559.0L819.7 566.3L823.5 566.5L827.3 575.5L831.1 571.9L834.9 582.0L838.7 590.9L842.5 588.0L846.3 599.6L850.1 605.5L853.9 588.4L857.7 587.0L861.5 590.5L865.4 585.9L869.2 590.2L873.0 592.6L876.8 597.5L880.6 592.3L884.4 581.4L888.2 582.6L892.0 588.3L895.8 583.3L899.6 589.9L903.4 573.8L907.2 554.2L911.0 555.8L914.8 550.8L918.6 538.1L922.4 535.0L926.2 557.6L930.0 565.7L933.8 567.5L937.6 567.5L941.4 563.7L945.2 568.9L949.0 539.8L952.8 537.8L956.6 551.6L960.5 555.0L964.3 551.6L968.1 569.0L971.9 582.8L975.7 601.7L979.5 591.3" stroke="#7e57c2" stroke-width="2.5" fill="none" stroke-linejoin="round"/>
</g>
<path d="M5.5 19.5H1140.5V652.5H5.5Z" stroke="#e3e5ea" fill="none" shape-rendering="crispEdges"/>
<path d="M1084.5 19.5V652.5M5.5 475.5H1140.5M5.5 628.5H1140.5" stroke="#e3e5ea" fill="none" shape-rendering="crispEdges"/>
<text x="12.4" y="35.7" font-size="10.4" fill="#131722" textLength="165.0" lengthAdjust="spacingAndGlyphs">ChainLink / TetherUS · 1D · Binance</text>
<text x="184.3" y="35.7" font-size="10.4" fill="#131722">O</text>
<text x="191.6" y="35.7" font-size="10.4" fill="#26a69a" textLength="24.5" lengthAdjust="spacingAndGlyphs">12.13</text>
<text x="222.9" y="35.7" font-size="10.4" fill="#131722">H</text>
<text x="229.7" y="35.7" font-size="10.4" fill="#26a69a" textLength="24.5" lengthAdjust="spacingAndGlyphs">12.47</text>
<text x="260.7" y="35.7" font-size="10.4" fill="#131722">L</text>
<text x="266.2" y="35.7" font-size="10.4" fill="#26a69a" textLength="24.5" lengthAdjust="spacingAndGlyphs">12.06</text>
<text x="297.4" y="35.7" font-size="10.4" fill="#131722">C</text>
<text x="304.3" y="35.7" font-size="10.4" fill="#26a69a" textLength="24.5" lengthAdjust="spacingAndGlyphs">12.38</text>
<text x="336.0" y="35.7" font-size="10.4" fill="#26a69a" textLength="66.6" lengthAdjust="spacingAndGlyphs">+0.26 (+2.15%)</text>
<text x="12.4" y="50.7" font-size="10.4" fill="#131722" textLength="70.2" lengthAdjust="spacingAndGlyphs">EMA (20, close)</text>
<text x="89.6" y="50.7" font-size="10.4" fill="#2962ff" textLength="24.7" lengthAdjust="spacingAndGlyphs">13.15</text>
<text x="12.4" y="65.7" font-size="10.4" fill="#131722" textLength="70.2" lengthAdjust="spacingAndGlyphs">SMA (50, close)</text>
<text x="89.6" y="65.7" font-size="10.4" fill="#f23645" textLength="24.7" lengthAdjust="spacingAndGlyphs">13.16</text>
<text x="12.4" y="493.2" font-size="10.4" fill="#131722" textLength="65.5" lengthAdjust="spacingAndGlyphs">RSI (14, close)</text>
<text x="84.5" y="493.2" font-size="10.4" fill="#7e57c2" textLength="24.7" lengthAdjust="spacingAndGlyphs">40.13</text>
<text x="115.8" y="493.2" font-size="10.4" fill="#fdd835" textLength="25.0" lengthAdjust="spacingAndGlyphs">51.28</text>
<text x="1091.7" y="453.9" font-size="10.4" fill="#131722" textLength="19.9" lengthAdjust="spacingAndGlyphs">8.00</text>
<text x="1091.7" y="290.0" font-size="10.4" fill="#131722" textLength="24.8" lengthAdjust="spacingAndGlyphs">16.00</text>
<text x="1091.7" y="249.0" font-size="10.4" fill="#131722" textLength="24.8" lengthAdjust="spacingAndGlyphs">18.00</text>
<text x="1091.7" y="208.0" font-size="10.4" fill="#131722" textLength="24.8" lengthAdjust="spacingAndGlyphs">20.00</text>
<text x="1091.7" y="167.1" font-size="10.4" fill="#131722" textLength="24.8" lengthAdjust="spacingAndGlyphs">22.00</text>
<text x="1091.7" y="126.1" font-size="10.4" fill="#131722" textLength="24.8" lengthAdjust="spacingAndGlyphs">24.00</text>
<text x="1091.7" y="85.1" font-size="10.4" fill="#131722" textLength="24.8" lengthAdjust="spacingAndGlyphs">26.00</text>
<text x="1091.7" y="495.1" font-size="10.4" fill="#131722" textLength="24.8" lengthAdjust="spacingAndGlyphs">80.00</text>
<text x="1091.7" y="546.1" font-size="10.4" fill="#131722" textLength="24.8" lengthAdjust="spacingAndGlyphs">60.00</text>
<rect x="1087.5" y="23.5" width="49" height="22" rx="3" fill="#fff" stroke="#e3e5ea"/>
<text x="1095.3" y="38.6" font-size="10.4" fill="#131722" textLength="23.0" lengthAdjust="spacingAndGlyphs">USDT</text>
<text x="89.2" y="644.0" font-size="10.4" fill="#131722" text-anchor="middle">Jun</text>
<text x="203.4" y="644.0" font-size="10.4" fill="#131722" text-anchor="middle">Jul</text>
<text x="321.4" y="644.0" font-size="10.4" fill="#131722" text-anchor="middle">Aug</text>
<text x="439.4" y="644.0" font-size="10.4" fill="#131722" text-anchor="middle">Sep</text>
<text x="553.5" y="644.0" font-size="10.4" fill="#131722" text-anchor="middle">Oct</text>
<text x="671.5" y="644.0" font-size="10.4" fill="#131722" text-anchor="middle">Nov</text>
<text x="785.7" y="644.0" font-size="10.4" fill="#131722" text-anchor="middle">Dec</text>
<text x="903.7" y="644.0" font-size="10.4" fill="#131722" text-anchor="middle">2026</text>
<text x="1021.7" y="644.0" font-size="10.4" fill="#131722" text-anchor="middle">Feb</text>
<rect x="1084.0" y="53.8" width="37.6" height="14.4" rx="2" fill="#0000ff"/>
<rect x="1084.0" y="53.8" width="3" height="14.4" fill="#0000ff"/>
<text x="1091.7" y="64.5" font-size="10.4" fill="#fff" textLength="24.8" lengthAdjust="spacingAndGlyphs">27.00</text>
<rect x="1084.0" y="300.2" width="37.6" height="14.4" rx="2" fill="#0000ff"/>
<rect x="1084.0" y="300.2" width="3" height="14.4" fill="#0000ff"/>
<text x="1091.7" y="310.9" font-size="10.4" fill="#fff" textLength="24.8" lengthAdjust="spacingAndGlyphs">14.98</text>
<rect x="1084.0" y="392.5" width="37.6" height="14.6" rx="2" fill="#0000ff"/>
<rect x="1084.0" y="392.5" width="3" height="14.6" fill="#0000ff"/>
<text x="1091.7" y="403.3" font-size="10.4" fill="#fff" textLength="24.8" lengthAdjust="spacingAndGlyphs">11.61</text>
<rect x="1084.0" y="406.8" width="37.6" height="14.4" rx="2" fill="#0000ff"/>
<rect x="1084.0" y="406.8" width="3" height="14.4" fill="#0000ff"/>
<text x="1091.7" y="417.5" font-size="10.4" fill="#fff" textLength="24.8" lengthAdjust="spacingAndGlyphs">10.94</text>
<rect x="1041.0" y="322.9" width="43.5" height="14.2" rx="2" fill="#f23645"/>
<rect x="1081.5" y="322.9" width="3" height="14.2" fill="#f23645"/>
<text x="1045.5" y="333.5" font-size="10.4" fill="#fff" textLength="34.5" lengthAdjust="spacingAndGlyphs">SMA:MA</text>
<rect x="1084.0" y="322.9" width="37.6" height="14.2" rx="2" fill="#f23645"/>
<rect x="1084.0" y="322.9" width="3" height="14.2" fill="#f23645"/>
<text x="1091.7" y="333.5" font-size="10.4" fill="#fff" textLength="24.8" lengthAdjust="spacingAndGlyphs">13.16</text>
<rect x="1057.0" y="337.5" width="27.5" height="14.2" rx="2" fill="#2962ff"/>
<rect x="1081.5" y="337.5" width="3" height="14.2" fill="#2962ff"/>
<text x="1061.3" y="348.1" font-size="10.4" fill="#fff" textLength="18.6" lengthAdjust="spacingAndGlyphs">EMA</text>
<rect x="1084.0" y="337.5" width="37.6" height="14.2" rx="2" fill="#2962ff"/>
<rect x="1084.0" y="337.5" width="3" height="14.2" fill="#2962ff"/>
<text x="1091.7" y="348.1" font-size="10.4" fill="#fff" textLength="24.8" lengthAdjust="spacingAndGlyphs">13.15</text>
<path d="M1084.5 323V352" stroke="#fff" stroke-opacity="0.5" stroke-width="1"/>
<rect x="1032.4" y="353.9" width="52.1" height="14.2" rx="2" fill="#26a69a"/>
<rect x="1081.5" y="353.9" width="3" height="14.2" fill="#26a69a"/>
<text x="1036.3" y="364.5" font-size="10.4" fill="#fff" textLength="43.5" lengthAdjust="spacingAndGlyphs">LINKUSDT</text>
<rect x="1084.0" y="354" width="52.0" height="38.2" rx="2" fill="#26a69a"/>
<text x="1091.7" y="364.5" font-size="10.4" fill="#fff" textLength="24.8" lengthAdjust="spacingAndGlyphs">12.38</text>
<text x="1091.7" y="376.6" font-size="10.4" fill="#fff" textLength="38.0" lengthAdjust="spacingAndGlyphs">−22.67%</text>
<text x="1091.7" y="388.4" font-size="10.4" fill="#fff" fill-opacity="0.82" textLength="39" lengthAdjust="spacingAndGlyphs">09:43:00</text>
<path d="M1084.5 354V368" stroke="#fff" stroke-opacity="0.5" stroke-width="1"/>
<rect x="1016.0" y="558.1" width="68.5" height="14.4" rx="2" fill="#fdd835"/>
<rect x="1081.5" y="558.1" width="3" height="14.4" fill="#fdd835"/>
<text x="1019.8" y="568.8" font-size="10.4" fill="#131722" textLength="60.5" lengthAdjust="spacingAndGlyphs">RSI-based MA</text>
<rect x="1084.0" y="558.1" width="37.5" height="14.4" rx="2" fill="#fdd835"/>
<rect x="1084.0" y="558.1" width="3" height="14.4" fill="#fdd835"/>
<text x="1091.7" y="568.8" font-size="10.4" fill="#131722" textLength="24.8" lengthAdjust="spacingAndGlyphs">51.28</text>
<rect x="1062.0" y="586.1" width="22.5" height="14.6" rx="2" fill="#7e57c2"/>
<rect x="1081.5" y="586.1" width="3" height="14.6" fill="#7e57c2"/>
<text x="1066.4" y="596.9" font-size="10.4" fill="#fff" textLength="14.0" lengthAdjust="spacingAndGlyphs">RSI</text>
<rect x="1084.0" y="586.1" width="37.5" height="14.6" rx="2" fill="#7e57c2"/>
<rect x="1084.0" y="586.1" width="3" height="14.6" fill="#7e57c2"/>
<text x="1091.7" y="596.9" font-size="10.4" fill="#fff" textLength="24.8" lengthAdjust="spacingAndGlyphs">40.13</text>
<path d="M1084.5 558.2V572.5M1084.5 586.1V600.7" stroke="#fff" stroke-opacity="0.5" stroke-width="1"/>
<g fill="none" stroke="#9c27b0" stroke-width="1.3" stroke-linecap="round">
<path d="M987.9 462.2A8.6 8.6 0 1 1 982.2 456.5"/>
<path d="M981.9 459.9L975.5 465.3H979.3L976.5 469.6L983.3 464H979.7Z" fill="#9c27b0" stroke="#9c27b0" stroke-width="0.6" stroke-linejoin="round"/>
</g><circle cx="985.4" cy="458.9" r="2.4" fill="#f23645"/>
<g fill="#131722"><path d="M7.3 671H17.5V684H12.3V676.1H7.3Z"/><circle cx="21.9" cy="673.5" r="2.5"/><path d="M26 671H32.9L29.1 684H22.3Z"/></g>
<text x="39.2" y="684.2" font-size="18" fill="#131722" textLength="103.5" lengthAdjust="spacingAndGlyphs" font-weight="bold">TradingView</text>
</svg></body></html>
